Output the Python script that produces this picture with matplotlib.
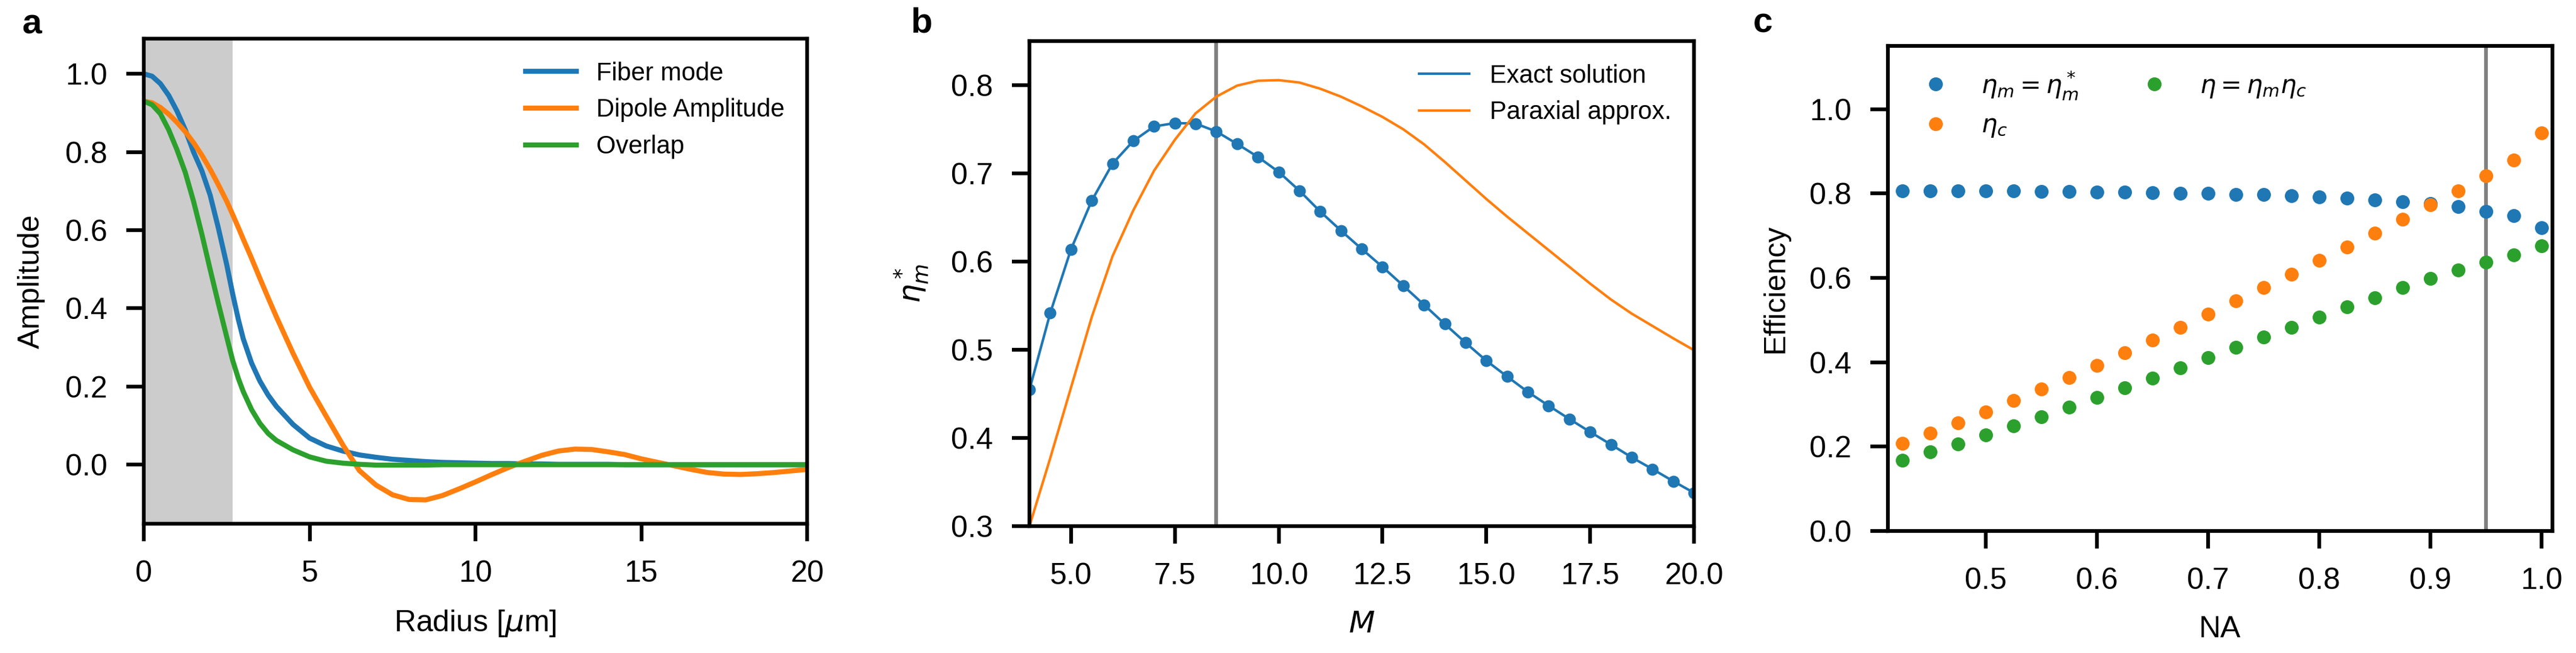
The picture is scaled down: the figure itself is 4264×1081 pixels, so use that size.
import numpy as np
import matplotlib
matplotlib.use("Agg")
import matplotlib.pyplot as plt

plt.rcParams["font.family"] = ["Liberation Sans", "DejaVu Sans"]
plt.rcParams["font.size"] = 12
plt.rcParams["mathtext.fontset"] = "dejavusans"
plt.rcParams["axes.linewidth"] = 1.5
for ax_ in ("xtick", "ytick"):
    plt.rcParams[f"{ax_}.major.size"] = 7
    plt.rcParams[f"{ax_}.major.width"] = 1.5
    plt.rcParams[f"{ax_}.major.pad"] = 7.5
    plt.rcParams[f"{ax_}.labelsize"] = 12
plt.rcParams["axes.labelpad"] = 8
plt.rcParams["legend.fontsize"] = 10
plt.rcParams["legend.frameon"] = False

W, H, DPI = 4264, 1081, 300

# ---- panel a: radial amplitude profiles ----
radius = [0, 0.25, 0.5, 0.75, 1.0, 1.25, 1.5, 1.75, 2.0, 2.25, 2.5, 2.68,
          2.85, 3.0, 3.25, 3.5, 3.75, 4.0, 4.5, 5.0, 5.5, 6.0, 6.5, 7.0,
          7.5, 8.0, 8.5, 9.0, 9.5, 10.0, 10.5, 11.0, 11.5, 12.0, 12.5, 13.0,
          13.5, 14.0, 14.5, 15.0, 15.5, 16.0, 16.5, 17.0, 17.5, 18.0, 18.5,
          19.0, 19.5, 20.0]
fiber_mode = [1.000, 0.994, 0.975, 0.945, 0.905, 0.857, 0.800, 0.752, 0.690,
              0.605, 0.512, 0.437, 0.372, 0.322, 0.260, 0.214, 0.178, 0.149,
              0.103, 0.068, 0.048, 0.035, 0.025, 0.019, 0.014, 0.011, 0.008,
              0.006, 0.005, 0.004, 0.003, 0.003, 0.002, 0.002, 0.001, 0.001,
              0.001, 0.001, 0.0, 0.0, 0.0, 0.0, 0.0, 0.0, 0.0, 0.0, 0.0, 0.0,
              0.0, 0.0]
dipole_amp = [0.930, 0.926, 0.914, 0.897, 0.876, 0.852, 0.824, 0.792, 0.756,
              0.716, 0.674, 0.640, 0.607, 0.577, 0.528, 0.477, 0.427, 0.378,
              0.285, 0.198, 0.124, 0.051, -0.015, -0.052, -0.077, -0.089,
              -0.090, -0.079, -0.062, -0.044, -0.025, -0.007, 0.009, 0.024,
              0.035, 0.040, 0.039, 0.033, 0.026, 0.015, 0.006, -0.003, -0.012,
              -0.020, -0.024, -0.025, -0.023, -0.020, -0.016, -0.012]
overlap = [0.930, 0.921, 0.898, 0.857, 0.806, 0.748, 0.674, 0.590, 0.500,
           0.412, 0.327, 0.267, 0.221, 0.187, 0.141, 0.106, 0.080, 0.062,
           0.038, 0.020, 0.009, 0.004, 0.001, -0.001, -0.001, -0.001, -0.001,
           0.0, 0.0, 0.0, 0.0, 0.0, 0.0, 0.0, 0.0, 0.0, 0.0, 0.0, 0.0, 0.0,
           0.0, 0.0, 0.0, 0.0, 0.0, 0.0, 0.0, 0.0, 0.0, 0.0]
core_radius = 2.68

# ---- panel b: optimum mode efficiency vs M ----
M_exact = [4.0, 4.5, 5.0, 5.5, 6.0, 6.5, 7.0, 7.5, 8.0, 8.5, 9.0, 9.5, 10.0,
           10.5, 11.0, 11.5, 12.0, 12.5, 13.0, 13.5, 14.0, 14.5, 15.0, 15.5,
           16.0, 16.5, 17.0, 17.5, 18.0, 18.5, 19.0, 19.5, 20.0]
eta_exact = [0.4545, 0.5415, 0.6138, 0.669, 0.711, 0.7367, 0.7532, 0.757,
             0.7565, 0.7475, 0.7334, 0.7187, 0.7017, 0.6804, 0.6568, 0.6351,
             0.6143, 0.594, 0.5727, 0.551, 0.5292, 0.508, 0.4876, 0.4697,
             0.4522, 0.4366, 0.4215, 0.4068, 0.3926, 0.378, 0.3647, 0.351,
             0.3378]
M_parax = M_exact
eta_parax = [0.300, 0.377, 0.457, 0.537, 0.606, 0.658, 0.703, 0.738, 0.768,
             0.787, 0.7995, 0.805, 0.8057, 0.803, 0.796, 0.787, 0.776, 0.764,
             0.750, 0.733, 0.713, 0.692, 0.671, 0.651, 0.632, 0.613,
             0.594, 0.575, 0.557, 0.541, 0.527, 0.513, 0.4995]
M_chosen = 8.5

# ---- panel c: efficiencies vs NA ----
NA = [0.425, 0.45, 0.475, 0.5, 0.525, 0.55, 0.575, 0.6, 0.625, 0.65, 0.675,
      0.7, 0.725, 0.75, 0.775, 0.8, 0.825, 0.85, 0.875, 0.9, 0.925, 0.95,
      0.975, 1.0]
eta_m = [0.806, 0.806, 0.806, 0.806, 0.806, 0.805, 0.805, 0.804, 0.803,
         0.802, 0.801, 0.800, 0.798, 0.797, 0.795, 0.792, 0.789, 0.785,
         0.780, 0.776, 0.769, 0.758, 0.747, 0.719]
eta_c = [0.208, 0.232, 0.256, 0.282, 0.309, 0.337, 0.364, 0.393, 0.423,
         0.452, 0.483, 0.514, 0.546, 0.577, 0.609, 0.642, 0.673, 0.706,
         0.739, 0.773, 0.807, 0.842, 0.880, 0.944]
eta_tot = [0.168, 0.187, 0.206, 0.228, 0.249, 0.271, 0.293, 0.316, 0.339,
           0.362, 0.386, 0.411, 0.435, 0.459, 0.483, 0.507, 0.531, 0.553,
           0.577, 0.598, 0.619, 0.637, 0.655, 0.676]
NA_chosen = 0.95


def px_axes(fig, left, top, right, bottom):
    return fig.add_axes([left / W, 1 - bottom / H, (right - left) / W,
                         (bottom - top) / H])


fig = plt.figure(figsize=(W / DPI, H / DPI), dpi=DPI)

# a
ax = px_axes(fig, 238, 64, 1336, 867)
ax.axvspan(0, core_radius, color="0.8", lw=0, zorder=0)
ax.plot(radius, fiber_mode, color="C0", lw=2, label="Fiber mode")
ax.plot(radius, dipole_amp, color="C1", lw=2, label="Dipole Amplitude")
ax.plot(radius, overlap, color="C2", lw=2, label="Overlap")
ax.set_xlim(0, 20)
ax.set_ylim(-0.151, 1.09)
ax.set_xticks([0, 5, 10, 15, 20])
ax.set_yticks(np.arange(0, 1.01, 0.2))
ax.set_xlabel(r"Radius [$\mu$m]")
ax.set_ylabel("Amplitude")
ax.legend(loc="upper right")

# b
ax = px_axes(fig, 1704, 68, 2804, 871)
ax.axvline(M_chosen, color="gray", lw=1.5)
ax.plot(M_exact, eta_exact, color="C0", lw=1, label="Exact solution")
ax.plot(M_exact, eta_exact, "o", color="C0", ms=3.8)
ax.plot(M_parax, eta_parax, color="C1", lw=1, label="Paraxial approx.")
ax.set_xlim(4, 20)
ax.set_ylim(0.3, 0.85)
ax.set_xticks(np.arange(5, 20.1, 2.5))
ax.set_yticks(np.arange(0.3, 0.81, 0.1))
ax.set_xlabel(r"$M$")
ax.set_ylabel(r"$\eta_m^*$")
ax.legend(loc="upper right")

# c
ax = px_axes(fig, 3125, 76, 4225, 879)
ax.axvline(NA_chosen, color="gray", lw=1.5)
ax.plot(NA, eta_m, "o", color="C0", ms=4.5, label=r"$\eta_m = \eta_m^*$")
ax.plot(NA, eta_c, "o", color="C1", ms=4.5, label=r"$\eta_c$")
ax.plot(NA, eta_tot, "o", color="C2", ms=4.5, label=r"$\eta = \eta_m\eta_c$")
ax.set_xlim(0.412, 1.01)
ax.set_ylim(0, 1.15)
ax.set_xticks(np.arange(0.5, 1.01, 0.1))
ax.set_yticks(np.arange(0, 1.01, 0.2))
ax.set_xlabel("NA")
ax.set_ylabel("Efficiency")
ax.legend(loc="upper left", ncol=2)

for lab, x, y in [("a", 36, 55), ("b", 1507, 54), ("c", 2902, 54)]:
    fig.text(x / W, 1 - y / H, lab, fontsize=14, fontweight="bold",
             va="baseline", ha="left")

fig.savefig("out.png", dpi=DPI)
